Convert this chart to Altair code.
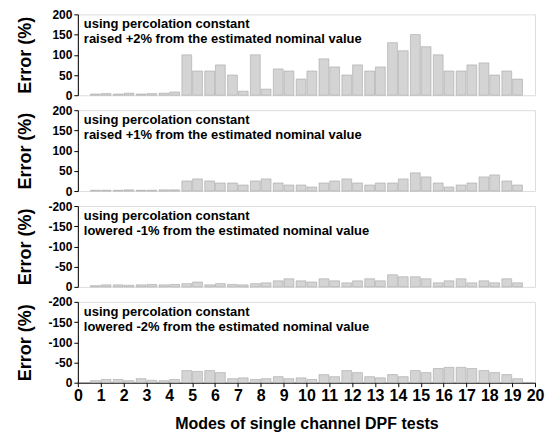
import altair as alt
import pandas as pd

modes = list(range(1, 20))

# two sub-bars per mode: left half (a) and right half (b)
p1_a = [3, 3, 3, 5, 100, 60, 50, 100, 65, 40, 90, 50, 60, 130, 150, 100, 60, 80, 60]
p1_b = [4, 5, 4, 8, 60, 75, 10, 15, 60, 60, 70, 75, 70, 110, 120, 60, 75, 50, 40]

p2_a = [2, 2, 2, 3, 25, 25, 20, 25, 20, 15, 20, 30, 15, 20, 45, 20, 15, 35, 25]
p2_b = [2, 3, 2, 3, 30, 20, 15, 30, 15, 10, 25, 20, 20, 30, 35, 10, 20, 40, 15]

p3_a = [-3, -5, -5, -5, -8, -5, -6, -8, -15, -15, -20, -10, -20, -30, -25, -10, -20, -15, -20]
p3_b = [-5, -4, -6, -6, -12, -8, -5, -10, -20, -12, -15, -15, -15, -25, -20, -15, -10, -10, -10]

p4_a = [-5, -8, -10, -5, -30, -30, -10, -8, -15, -12, -20, -30, -15, -20, -30, -35, -38, -30, -20]
p4_b = [-8, -5, -6, -8, -28, -25, -12, -10, -10, -8, -15, -25, -12, -15, -25, -38, -35, -25, -10]

labels = [
    ["using percolation constant", "raised +2% from the estimated nominal value"],
    ["using percolation constant", "raised +1% from the estimated nominal value"],
    ["using percolation constant", "lowered -1% from the estimated nominal value"],
    ["using percolation constant", "lowered -2% from the estimated nominal value"],
]

x_ticks = list(range(0, 21))
pos_ticks = [0, 50, 100, 150, 200]
neg_ticks = [-200, -150, -100, -50, 0]

FONT = "Liberation Sans"
W, H = 458, 81


def make_df(a, b):
    rows = []
    for m, va, vb in zip(modes, a, b):
        rows.append({"x0": m - 0.45, "x1": m - 0.02, "v": va})
        rows.append({"x0": m + 0.02, "x1": m + 0.45, "v": vb})
    return pd.DataFrame(rows)


def panel(a, b, lab, negative, bottom):
    df = make_df(a, b)
    if negative:
        yscale = alt.Scale(domain=[-200, 0], reverse=True, nice=False)
        yvals = neg_ticks
    else:
        yscale = alt.Scale(domain=[0, 200], nice=False)
        yvals = pos_ticks
    yaxis = alt.Axis(
        values=yvals, title="Error (%)", labelExpr="'' + datum.value",
        labelFont=FONT, labelFontWeight="bold", labelFontSize=12, labelColor="black",
        titleFont=FONT, titleFontWeight="bold", titleFontSize=18, titleColor="black",
        titleX=-47, titleBaseline="alphabetic", titleAngle=-90,
        tickSize=4, tickColor="black", domainColor="black", labelPadding=2, grid=False,
    )
    if bottom:
        xaxis = alt.Axis(
            values=x_ticks, title="Modes of single channel DPF tests", format="d",
            labelFont=FONT, labelFontWeight="bold", labelFontSize=16, labelColor="black",
            titleFont=FONT, titleFontWeight="bold", titleFontSize=16, titleColor="black",
            tickSize=4, tickColor="black", domainColor="black", labelPadding=1,
            titlePadding=12, grid=False, labelFlush=False, labelOverlap=False,
        )
    else:
        xaxis = None
    bars = alt.Chart(df).mark_rect(fill="#d4d4d4", stroke="#9a9a9a", strokeWidth=0.5).encode(
        x=alt.X("x0:Q", scale=alt.Scale(domain=[0, 20], nice=False), axis=xaxis),
        x2="x1:Q",
        y=alt.Y("v:Q", scale=yscale, axis=yaxis),
        y2=alt.datum(0),
    )
    txt = alt.Chart(pd.DataFrame({"t": [lab]})).mark_text(
        align="left", baseline="alphabetic", font=FONT, fontWeight="bold",
        fontSize=13, lineHeight=15, color="black",
    ).encode(text="t:N", x=alt.value(6), y=alt.value(14))
    return alt.layer(bars, txt).properties(width=W, height=H)


panels = [
    panel(p1_a, p1_b, labels[0], False, False),
    panel(p2_a, p2_b, labels[1], False, False),
    panel(p3_a, p3_b, labels[2], True, False),
    panel(p4_a, p4_b, labels[3], True, True),
]

chart = alt.vconcat(*panels, spacing=15, bounds="flush").properties(
    padding={"left": 16, "top": 7, "right": 5, "bottom": 5}
).configure_view(stroke="black", strokeWidth=1).configure(background="white")

chart.save("out.html", embed_options={"renderer": "svg", "actions": False})
